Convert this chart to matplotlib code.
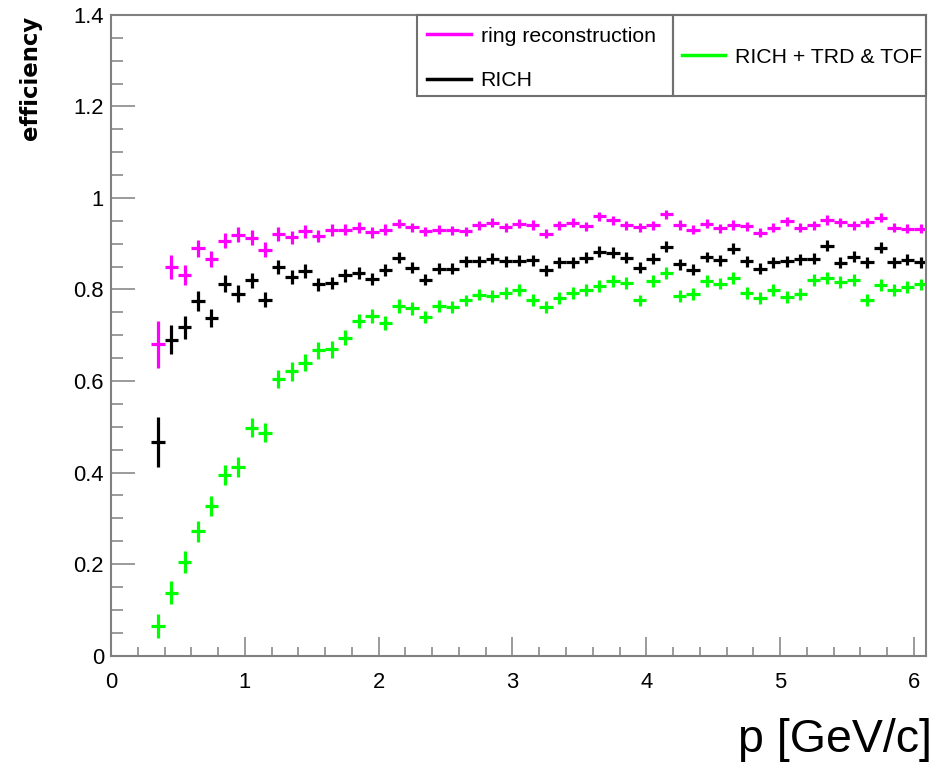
import numpy as np
import matplotlib
matplotlib.use("Agg")
import matplotlib.pyplot as plt
from matplotlib.lines import Line2D
from matplotlib.patches import Rectangle
from matplotlib.ticker import MultipleLocator, FuncFormatter

plt.rcParams['font.family'] = ['Liberation Sans', 'DejaVu Sans']

# momentum bin centres [GeV/c], bin width 0.1
p = np.round(np.arange(0.35, 6.06, 0.1), 2)
bin_half_width = 0.05

eff_ring = [0.680, 0.850, 0.831, 0.890, 0.867, 0.907, 0.920,
            0.913, 0.887, 0.922, 0.914, 0.927, 0.916, 0.931, 0.931, 0.935, 0.925,
            0.931, 0.944, 0.936, 0.927, 0.931, 0.929, 0.927, 0.940, 0.946, 0.936,
            0.944, 0.941, 0.922, 0.940, 0.946, 0.938, 0.960, 0.951, 0.940, 0.936,
            0.940, 0.964, 0.941, 0.931, 0.944, 0.934, 0.941, 0.938, 0.924, 0.935,
            0.949, 0.935, 0.940, 0.952, 0.947, 0.940, 0.947, 0.957, 0.935, 0.933, 0.933]
err_ring = ([0.051, 0.026, 0.022, 0.019, 0.018, 0.017, 0.016, 0.016, 0.016, 0.015,
             0.014, 0.014, 0.013, 0.013, 0.012, 0.012, 0.012, 0.012] + [0.010] * 40)

eff_rich = [0.467, 0.690, 0.717, 0.775, 0.738, 0.813, 0.791,
            0.820, 0.778, 0.849, 0.827, 0.840, 0.811, 0.814, 0.831, 0.836, 0.823,
            0.842, 0.869, 0.848, 0.821, 0.845, 0.845, 0.862, 0.862, 0.867, 0.862,
            0.863, 0.864, 0.842, 0.860, 0.860, 0.869, 0.883, 0.880, 0.869, 0.848,
            0.867, 0.893, 0.855, 0.843, 0.871, 0.864, 0.889, 0.862, 0.845, 0.860,
            0.862, 0.866, 0.867, 0.896, 0.858, 0.872, 0.860, 0.891, 0.860, 0.865, 0.860]
err_rich = ([0.054, 0.032, 0.026, 0.022, 0.020, 0.018, 0.018, 0.017, 0.017, 0.016,
             0.016, 0.015, 0.015, 0.014, 0.014, 0.013, 0.013, 0.013] + [0.012] * 40)

eff_all = [0.064, 0.137, 0.205, 0.272, 0.327, 0.394, 0.412,
           0.498, 0.487, 0.605, 0.621, 0.640, 0.667, 0.669, 0.695, 0.731, 0.742,
           0.726, 0.764, 0.759, 0.740, 0.764, 0.762, 0.776, 0.789, 0.786, 0.793,
           0.798, 0.777, 0.761, 0.781, 0.793, 0.799, 0.807, 0.818, 0.815, 0.776,
           0.818, 0.836, 0.785, 0.791, 0.818, 0.813, 0.826, 0.792, 0.782, 0.798,
           0.783, 0.791, 0.821, 0.826, 0.816, 0.821, 0.778, 0.809, 0.798, 0.805, 0.811]
err_all = ([0.026, 0.025, 0.024, 0.023, 0.022, 0.022, 0.021, 0.021, 0.021, 0.020,
            0.020, 0.019, 0.018, 0.018, 0.017, 0.016, 0.016, 0.015, 0.015, 0.014] + [0.013] * 38)

series = [
    ("ring reconstruction", eff_ring, err_ring, "#ff00ff"),
    ("RICH", eff_rich, err_rich, "#000000"),
    ("RICH + TRD & TOF", eff_all, err_all, "#00ff00"),
]

fig = plt.figure(figsize=(9.35, 7.64), dpi=100)
ax = fig.add_axes([0.1187, 0.1420, 0.8717, 0.8384])

for label, eff, err, color in series:
    ax.errorbar(p, eff, xerr=bin_half_width, yerr=err, fmt='none',
                ecolor=color, elinewidth=2.3, capsize=0, label=label)

ax.set_xlim(0, 6.09)
ax.set_ylim(0, 1.4)

frame_gray = "#808080"
for side in ax.spines.values():
    side.set_color(frame_gray)
    side.set_linewidth(1.5)

ax.xaxis.set_major_locator(MultipleLocator(1))
ax.xaxis.set_minor_locator(MultipleLocator(0.2))
ax.yaxis.set_major_locator(MultipleLocator(0.2))
ax.yaxis.set_minor_locator(MultipleLocator(0.05))
ax.yaxis.set_major_formatter(FuncFormatter(lambda v, _: f"{v:g}"))
ax.xaxis.set_major_formatter(FuncFormatter(lambda v, _: f"{v:g}"))

ax.tick_params(axis='both', which='both', direction='in', color=frame_gray,
               width=1.1, top=False, right=False, labelsize=15.8, labelcolor='black')
ax.tick_params(axis='y', which='major', length=17, pad=5)
ax.tick_params(axis='y', which='minor', length=8.6)
ax.tick_params(axis='x', which='major', length=13.7, pad=12)
ax.tick_params(axis='x', which='minor', length=6.5)

ax.set_ylabel("efficiency", fontsize=16.4, fontweight='bold', family='DejaVu Sans')
ax.yaxis.set_label_coords(-0.0847, 0.9016)

fig.text(0.997, 0.002, "p [GeV/c]", fontsize=33.5, ha='right', va='bottom')

# two-part legend box in the upper right
box_kw = dict(transform=ax.transAxes, fill=False, edgecolor="#707070",
              linewidth=1.5, clip_on=False, zorder=5)
ax.add_patch(Rectangle((0.376, 0.8735), 0.314, 0.1265, **box_kw))
ax.add_patch(Rectangle((0.690, 0.8735), 0.310, 0.1265, **box_kw))

handles = [Line2D([], [], color=c, linewidth=2.5) for _, _, _, c in series]
labels = [s[0] for s in series]

leg1 = ax.legend(handles[:2], labels[:2], loc='upper left',
                 bbox_to_anchor=(0.383, 0.988), frameon=False, fontsize=15.3,
                 handlelength=2.05, handletextpad=0.45, labelspacing=1.2,
                 borderpad=0.2, borderaxespad=0)
ax.add_artist(leg1)
ax.legend(handles[2:], labels[2:], loc='center left',
          bbox_to_anchor=(0.695, 0.934), frameon=False, fontsize=15.3,
          handlelength=2.05, handletextpad=0.45, borderpad=0.2, borderaxespad=0)

fig.savefig("out.png", dpi=100)
